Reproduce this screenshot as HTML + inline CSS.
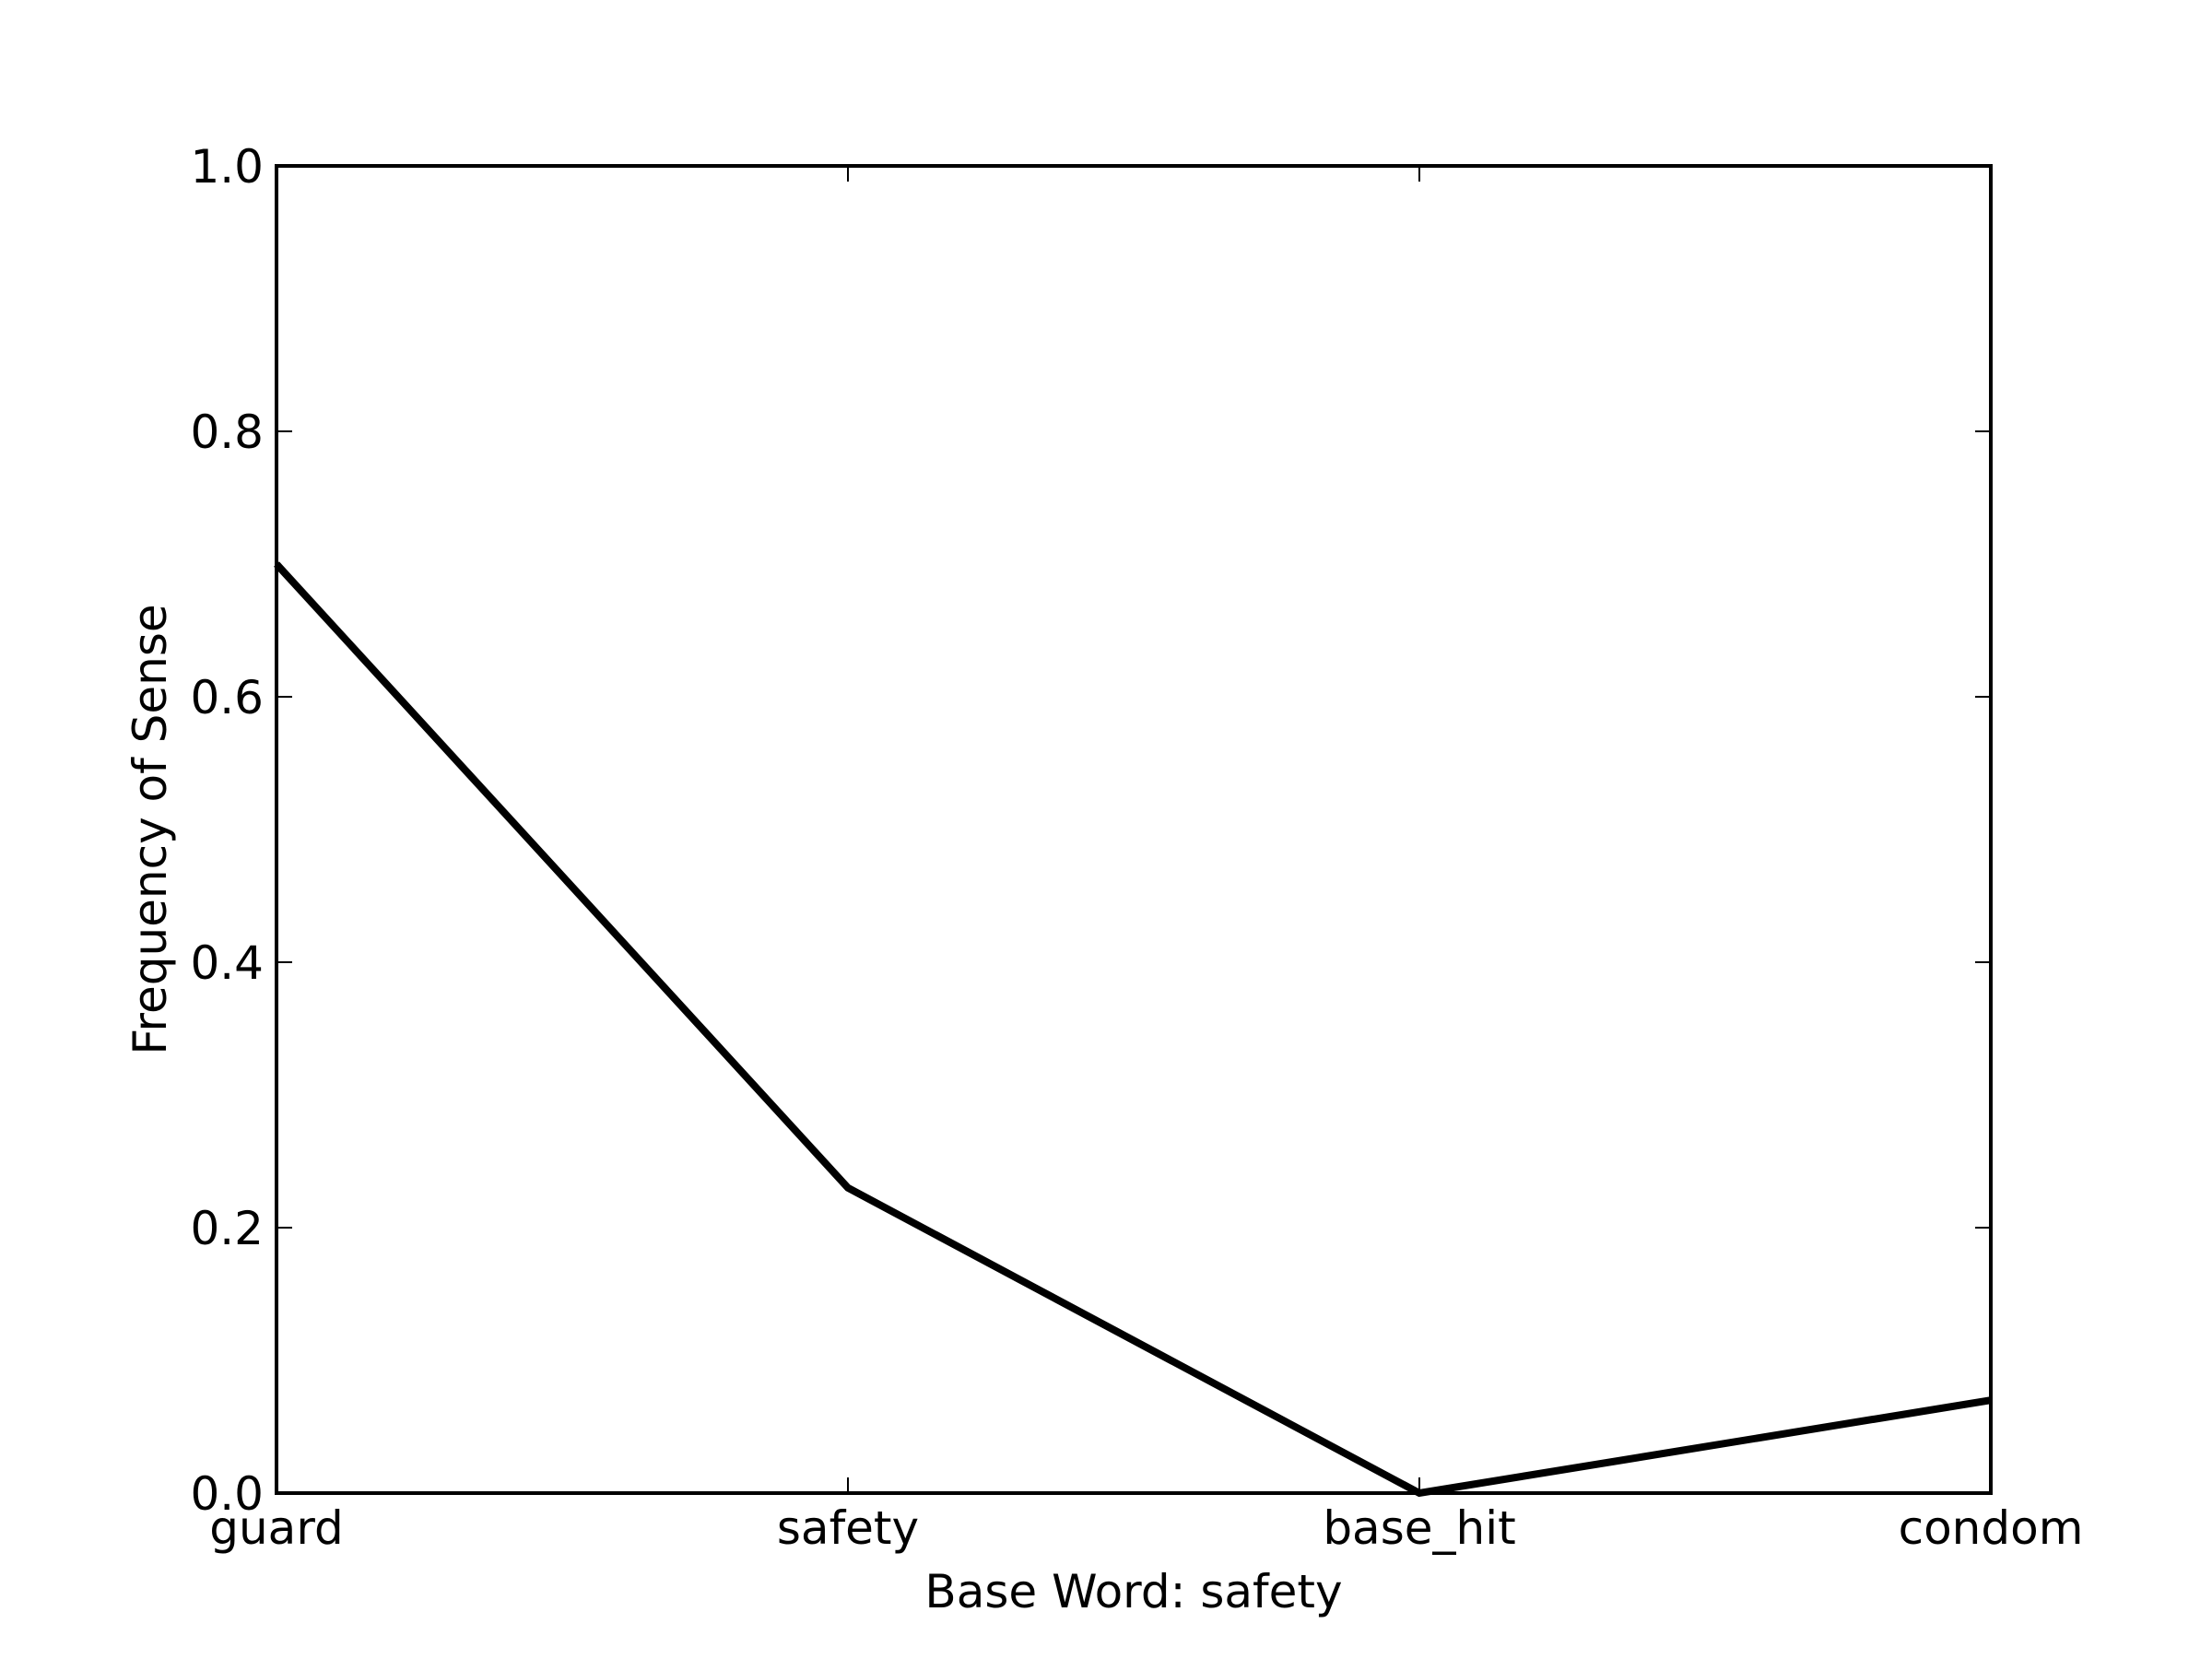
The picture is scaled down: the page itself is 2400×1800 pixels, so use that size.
<!DOCTYPE html>
<html><head><meta charset="utf-8"><style>
html,body{margin:0;padding:0;background:#fff;}
svg{display:block;font-family:"DejaVu Sans","Liberation Sans",sans-serif;}
</style></head><body>
<svg id="chart" width="2400" height="1800" viewBox="0 0 2400 1800" xmlns="http://www.w3.org/2000/svg">
<rect width="2400" height="1800" fill="#fff"/>
<g id="ticks"></g>
<polyline id="series" fill="none" stroke="#000" stroke-width="8" stroke-linejoin="miter"/>
<rect x="300" y="180" width="1860" height="1440" fill="none" stroke="#000" stroke-width="4"/>
<text x="1230" y="1744" font-size="50" text-anchor="middle">Base Word: safety</text>
<text transform="translate(180,900) rotate(-90)" font-size="50" text-anchor="middle">Frequency of Sense</text>
</svg>
<script>
const categories = ["guard","safety","base_hit","condom"];
const values = [0.70, 0.23, 0.0, 0.07];
const yTicks = [0.0, 0.2, 0.4, 0.6, 0.8, 1.0];
const yTickLabels = ["0.0","0.2","0.4","0.6","0.8","1.0"];

const L=300,R=2160,T=180,B=1620;
const xs = i => L + (R-L)*i/(categories.length-1);
const ys = v => B - (B-T)*v;
const ns="http://www.w3.org/2000/svg";
const g=document.getElementById('ticks');
function mk(tag,attrs){const e=document.createElementNS(ns,tag);for(const k in attrs)e.setAttribute(k,attrs[k]);return e;}
yTicks.forEach((t,i)=>{
  const y=ys(t);
  const a=mk('line',{x1:L,x2:L+17,y1:y,y2:y,stroke:'#000','stroke-width':2});
  
  
  g.appendChild(a);
  const b=mk('line',{x1:R-17,x2:R,y1:y,y2:y,stroke:'#000','stroke-width':2});
  
  
  g.appendChild(b);
  const tx=mk('text',{x:L-14,y:y+18,'font-size':50,'text-anchor':'end'});
  
  
  tx.textContent=yTickLabels[i];
  g.appendChild(tx);
});
categories.forEach((c,i)=>{
  const x=xs(i);
  const a=mk('line',{x1:x,x2:x,y1:B,y2:B-17,stroke:'#000','stroke-width':2});
  
  
  g.appendChild(a);
  const b=mk('line',{x1:x,x2:x,y1:T,y2:T+17,stroke:'#000','stroke-width':2});
  
  
  g.appendChild(b);
  const tx=mk('text',{x:x,y:B+55,'font-size':50,'text-anchor':'middle'});
  
  
  tx.textContent=c;
  g.appendChild(tx);
});
document.getElementById('series').setAttribute('points',values.map((v,i)=>xs(i)+','+ys(v)).join(' '));
</script>
</body></html>
